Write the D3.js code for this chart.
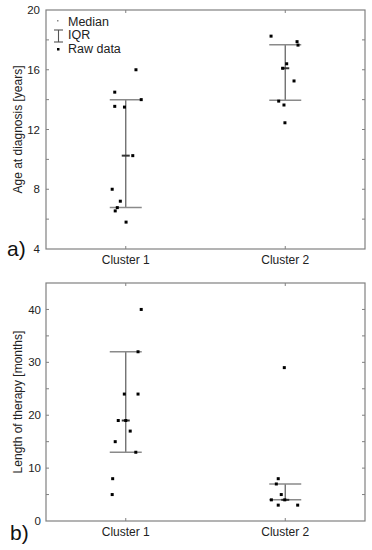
<!DOCTYPE html>
<html>
<head>
<meta charset="utf-8">
<script src="https://cdn.jsdelivr.net/npm/d3@7"></script>
<style>
  html, body { margin: 0; padding: 0; background: #fff; }
  svg { display: block; }
  text { font-family: "Liberation Sans", Arial, sans-serif; }
</style>
</head>
<body>
<svg id="chart" width="372" height="550"></svg>
<script>
// ---------- DATA ----------
const categories = ["Cluster 1", "Cluster 2"];

// Panel a) Age at diagnosis [years]
const ageTicks = [4, 8, 12, 16, 20];
const ageMinorTicks = [6, 10, 14, 18];
const ageCluster1 = [16.0, 14.5, 14.0, 13.55, 13.5, 10.25, 8.0, 7.2, 6.77, 6.55, 5.8];
const ageJitter1  = [0.064, -0.069, 0.097, -0.069, -0.008, 0.044, -0.085, -0.034, -0.053, -0.066, 0.002];
const ageCluster2 = [18.25, 17.88, 17.65, 16.4, 16.1, 15.25, 13.9, 13.64, 12.45];
const ageJitter2  = [-0.089, 0.074, 0.080, 0.009, -0.016, 0.055, -0.041, -0.008, -0.002];
const ageMedian = [10.25, 16.1];
const ageQ1 = [6.77, 13.95];
const ageQ3 = [14.0, 17.67];

// Panel b) Length of therapy [months]
const therapyTicks = [0, 10, 20, 30, 40];
const therapyMinorTicks = [5, 15, 25, 35, 45];
const therapyCluster1 = [40, 32, 24, 24, 19, 19, 17, 15, 13, 8, 5];
const therapyJitter1  = [0.097, 0.077, -0.009, 0.077, -0.047, 0.0, 0.028, -0.066, 0.063, -0.082, -0.085];
const therapyCluster2 = [29, 8, 7, 5, 4, 4, 3, 3];
const therapyJitter2  = [-0.006, -0.044, -0.056, -0.025, -0.087, -0.003, -0.044, 0.078];
const therapyMedian = [19, 4];
const therapyQ1 = [13, 4];
const therapyQ3 = [32, 7];

const legendLabels = ["Median", "IQR", "Raw data"];

// ---------- DRAWING ----------
const svg = d3.select("#chart");
const frameColor = "#808080";
const left = 46, right = 365;

function panel(cfg) {
  const g = svg.append("g");
  const x = d3.scalePoint().domain(categories).range([left, right]).padding(0.5);
  const y = d3.scaleLinear().domain(cfg.domain).range([cfg.bottom, cfg.top]);
  const step = x.step();
  const tickLen = 3;

  // frame
  g.append("rect").attr("x", left).attr("y", cfg.top)
    .attr("width", right - left).attr("height", cfg.bottom - cfg.top)
    .attr("fill", "none").attr("stroke", frameColor).attr("stroke-width", 1.2);

  // y ticks (inward, both sides)
  const allY = cfg.ticks.concat(cfg.minor).filter(v => v > cfg.domain[0] && v < cfg.domain[1]);
  allY.forEach(v => {
    g.append("line").attr("x1", left).attr("x2", left + tickLen)
      .attr("y1", y(v)).attr("y2", y(v)).attr("stroke", frameColor).attr("stroke-width", 1);
    g.append("line").attr("x1", right - tickLen).attr("x2", right)
      .attr("y1", y(v)).attr("y2", y(v)).attr("stroke", frameColor).attr("stroke-width", 1);
  });
  // x ticks (inward, top and bottom)
  categories.forEach(c => {
    g.append("line").attr("x1", x(c)).attr("x2", x(c))
      .attr("y1", cfg.bottom).attr("y2", cfg.bottom - tickLen).attr("stroke", frameColor);
    g.append("line").attr("x1", x(c)).attr("x2", x(c))
      .attr("y1", cfg.top).attr("y2", cfg.top + tickLen).attr("stroke", frameColor);
  });

  // y tick labels
  g.selectAll(".ylab").data(cfg.ticks).enter().append("text")
    .attr("x", cfg.labelX).attr("y", d => y(d)).attr("dy", "0.36em")
    .attr("text-anchor", "end").attr("font-size", 11.5).attr("fill", "#222")
    .text(d => d);

  // x labels
  g.selectAll(".xlab").data(categories).enter().append("text")
    .attr("x", d => x(d)).attr("y", cfg.bottom + 15)
    .attr("text-anchor", "middle").attr("font-size", 12).attr("fill", "#222")
    .text(d => d);

  // axis title
  const mid = (cfg.top + cfg.bottom) / 2;
  g.append("text").attr("transform", `translate(18,${mid}) rotate(-90)`)
    .attr("dy", "0.36em").attr("text-anchor", "middle")
    .attr("font-size", 12).attr("fill", "#222").text(cfg.title);

  // panel letter
  g.append("text").attr("x", cfg.letterX).attr("y", cfg.letterY)
    .attr("font-size", 21).attr("fill", "#111").text(cfg.letter);

  // IQR bars
  categories.forEach((c, i) => {
    const cx = x(c);
    g.append("line").attr("x1", cx).attr("x2", cx)
      .attr("y1", y(cfg.q1[i])).attr("y2", y(cfg.q3[i]))
      .attr("stroke", "#666").attr("stroke-width", 1.3);
    [cfg.q1[i], cfg.q3[i]].forEach(v => {
      g.append("line").attr("x1", cx - 16).attr("x2", cx + 16)
        .attr("y1", y(v)).attr("y2", y(v))
        .attr("stroke", "#8a8a8a").attr("stroke-width", 1.5);
    });
    g.append("line").attr("x1", cx - 4).attr("x2", cx + 4)
      .attr("y1", y(cfg.med[i])).attr("y2", y(cfg.med[i]))
      .attr("stroke", "#333").attr("stroke-width", 2);
  });

  // raw data
  cfg.series.forEach((s, i) => {
    const cx = x(categories[i]);
    g.selectAll(null).data(s.values).enter().append("rect")
      .attr("x", (d, j) => cx + s.jitter[j] * step - 1.5)
      .attr("y", d => y(d) - 1.5)
      .attr("width", 3).attr("height", 3).attr("fill", "#000");
  });
  return { x, y };
}

panel({
  domain: [4, 20], top: 10, bottom: 249,
  ticks: ageTicks, minor: ageMinorTicks,
  q1: ageQ1, q3: ageQ3, med: ageMedian,
  series: [{ values: ageCluster1, jitter: ageJitter1 }, { values: ageCluster2, jitter: ageJitter2 }],
  title: "Age at diagnosis [years]", labelX: 40,
  letter: "a)", letterX: 7, letterY: 256
});

panel({
  domain: [0, 45], top: 283, bottom: 521,
  ticks: therapyTicks, minor: therapyMinorTicks,
  q1: therapyQ1, q3: therapyQ3, med: therapyMedian,
  series: [{ values: therapyCluster1, jitter: therapyJitter1 }, { values: therapyCluster2, jitter: therapyJitter2 }],
  title: "Length of therapy [months]", labelX: 41,
  letter: "b)", letterX: 10, letterY: 540
});

// legend
const lg = svg.append("g");
lg.append("rect").attr("x", 57).attr("y", 20).attr("width", 1.5).attr("height", 1.5).attr("fill", "#888");
lg.append("line").attr("x1", 58.5).attr("x2", 58.5).attr("y1", 30).attr("y2", 42).attr("stroke", "#555").attr("stroke-width", 1.1);
lg.append("line").attr("x1", 54).attr("x2", 63).attr("y1", 30).attr("y2", 30).attr("stroke", "#555").attr("stroke-width", 1.1);
lg.append("line").attr("x1", 54).attr("x2", 63).attr("y1", 42).attr("y2", 42).attr("stroke", "#555").attr("stroke-width", 1.1);
lg.append("rect").attr("x", 57).attr("y", 48).attr("width", 2.5).attr("height", 2.5).attr("fill", "#000");
lg.selectAll(".lt").data(legendLabels).enter().append("text")
  .attr("x", 68).attr("y", (d, i) => 25.5 + i * 13.5)
  .attr("font-size", 12.5).attr("fill", "#222").text(d => d);
</script>
</body>
</html>
